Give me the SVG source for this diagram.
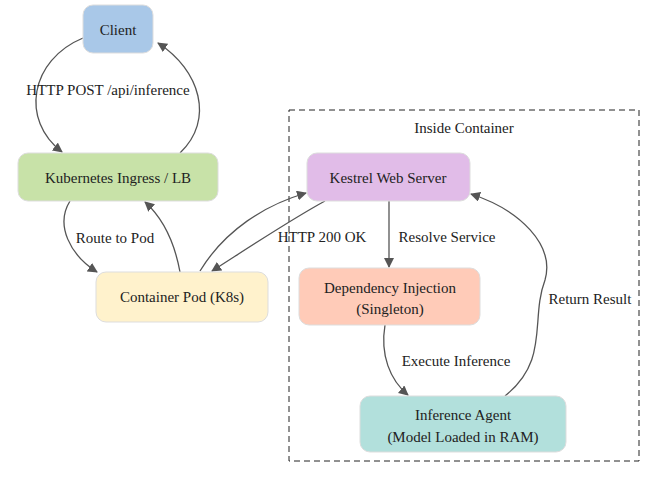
<svg xmlns="http://www.w3.org/2000/svg" width="655" height="477" viewBox="0 0 655 477">
<style>
text{font-family:"Liberation Serif",serif;font-size:15px;fill:#222;text-anchor:middle}
.n{stroke:#ddd;stroke-width:1}
.e{fill:none;stroke:#555;stroke-width:1.3;marker-end:url(#a)}
</style>
<defs><marker id="a" viewBox="0 0 10 10" refX="9" refY="5" markerWidth="10" markerHeight="10" markerUnits="userSpaceOnUse" orient="auto"><path d="M0,0L10,5L0,10z" fill="#555"/></marker></defs>
<rect x="289" y="110" width="350" height="351" fill="none" stroke="#222" stroke-dasharray="6,4"/>
<text x="464" y="133">Inside Container</text>
<g id="edges">
<path class="e" d="M83,38C30,60 20,120 62,152"/>
<path class="e" d="M180,153C215,120 200,70 158,43"/>
<path class="e" d="M70,201C55,225 70,255 97,272"/>
<path class="e" d="M180,272C175,245 165,220 145,202"/>
<path class="e" d="M200,271C225,230 265,205 306,193"/>
<path class="e" d="M325,201C290,220 245,250 212,271"/>
<path class="e" d="M389,201L389,267"/>
<path class="e" d="M385,325C380,355 390,380 408,395"/>
<path class="e" d="M505,396C550,360 530,320 545,280C555,245 520,210 471,194"/>
<text x="108" y="95">HTTP POST /api/inference</text>
<text x="115" y="243">Route to Pod</text>
<text x="322" y="242">HTTP 200 OK</text>
<text x="447" y="242">Resolve Service</text>
<text x="456" y="366">Execute Inference</text>
<text x="590" y="304">Return Result</text>
</g>
<g id="client"><rect class="n" x="83" y="5" width="70" height="48" rx="10" fill="#a9c8e8"/><text x="118" y="35">Client</text></g>
<g id="ingress"><rect class="n" x="18" y="153" width="200" height="48" rx="10" fill="#c8e2a8"/><text x="118" y="183">Kubernetes Ingress / LB</text></g>
<g id="pod"><rect class="n" x="96" y="272" width="172" height="50" rx="10" fill="#fff2cc"/><text x="182" y="302">Container Pod (K8s)</text></g>
<g id="kestrel"><rect class="n" x="307" y="153" width="163" height="48" rx="10" fill="#e1bce8"/><text x="388" y="183">Kestrel Web Server</text></g>
<g id="di"><rect class="n" x="299" y="268" width="181" height="57" rx="10" fill="#ffcbb8"/><text x="390" y="293">Dependency Injection</text><text x="390" y="314">(Singleton)</text></g>
<g id="agent"><rect class="n" x="360" y="396" width="206" height="56" rx="10" fill="#b2e0dc"/><text x="463" y="420">Inference Agent</text><text x="463" y="442">(Model Loaded in RAM)</text></g>
</svg>
